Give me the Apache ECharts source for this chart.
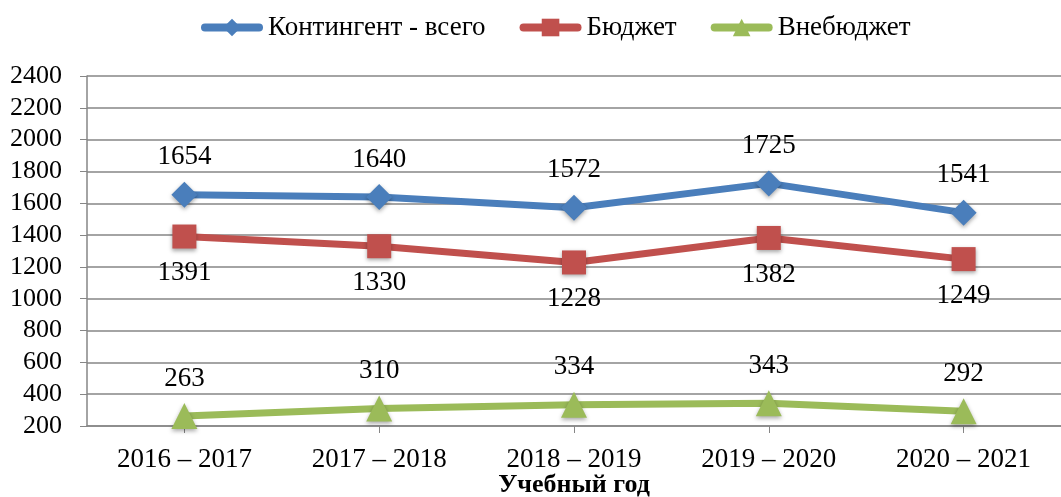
<!DOCTYPE html>
<html>
<head>
<meta charset="utf-8">
<script src="https://cdn.jsdelivr.net/npm/echarts@6/dist/echarts.min.js"></script>
<style>
  html, body { margin: 0; padding: 0; background: #fff; }
  #chart { width: 1061px; height: 497px; }
</style>
</head>
<body>
<div id="chart"></div>
<script>
var categories = ["2016 – 2017", "2017 – 2018", "2018 – 2019", "2019 – 2020", "2020 – 2021"];
var totalValues = [1654, 1640, 1572, 1725, 1541];
var budgetValues = [1391, 1330, 1228, 1382, 1249];
var paidValues = [263, 310, 334, 343, 292];
var yTicks = [200, 2400, 200]; // min, max, interval

var font = "Liberation Serif, Times New Roman, serif";

function lineSeries(name, data, color, symbol, size, labelPos) {
  return {
    type: "line",
    name: name,
    data: data,
    symbol: symbol,
    symbolSize: size,
    color: color,
    lineStyle: { width: 7, color: color, cap: "round" },
    itemStyle: {
      color: color,
      shadowBlur: 4,
      shadowColor: "rgba(0,0,0,0.35)",
      shadowOffsetY: 2
    },
    label: {
      show: true,
      position: labelPos,
      distance: 11,
      fontFamily: font,
      fontSize: 27,
      color: "#000"
    },
    z: 3
  };
}

var chart = echarts.init(document.getElementById("chart"), null, { renderer: "canvas" });
var option = {
  animation: false,
  textStyle: { fontFamily: font },
  legend: {
    top: 9,
    left: 196,
    itemWidth: 54,
    itemHeight: 22,
    itemGap: 34,
    lineStyle: { width: 8, cap: "round" },
    textStyle: { fontFamily: font, fontSize: 27, color: "#000", padding: [0, 0, 0, 4] },
    data: ["Контингент - всего", "Бюджет", "Внебюджет"]
  },
  grid: {
    left: 87,
    right: 0,
    top: 76,
    bottom: 71,
    containLabel: false,
    outerBoundsMode: "none"
  },
  xAxis: {
    type: "category",
    data: categories,
    boundaryGap: true,
    name: "Учебный год",
    nameLocation: "middle",
    nameGap: 46,
    nameMoveOverlap: false,
    nameTextStyle: { fontFamily: font, fontSize: 26, fontWeight: "bold", color: "#000", verticalAlign: "top" },
    axisLine: { lineStyle: { color: "#868686", width: 1.5 } },
    axisTick: { show: true, alignWithLabel: true, length: 7, lineStyle: { color: "#868686" } },
    axisLabel: { fontFamily: font, fontSize: 27, color: "#000", margin: 20 }
  },
  yAxis: {
    type: "value",
    min: yTicks[0],
    max: yTicks[1],
    interval: yTicks[2],
    axisLine: { show: true, lineStyle: { color: "#868686", width: 1.5 } },
    axisTick: { show: true, length: 7, lineStyle: { color: "#868686" } },
    axisLabel: { fontFamily: font, fontSize: 26, color: "#000", margin: 25, formatter: function (v) { return String(v); } },
    splitLine: { show: true, lineStyle: { color: "#868686", width: 1.5 } }
  },
  series: [
    lineSeries("Контингент - всего", totalValues, "#4A7EBB", "diamond", 26, "top"),
    lineSeries("Бюджет", budgetValues, "#C0504D", "rect", 24, "bottom"),
    lineSeries("Внебюджет", paidValues, "#9BBB59", "triangle", 26, "top")
  ]
};
chart.setOption(option);
</script>
</body>
</html>
